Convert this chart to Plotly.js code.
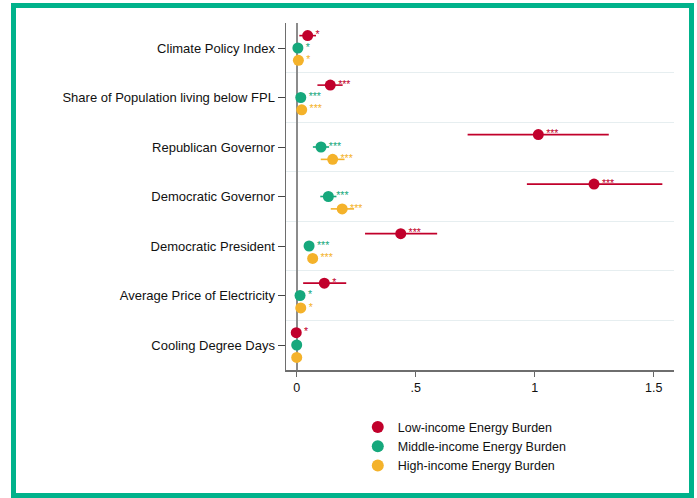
<!DOCTYPE html>
<html>
<head>
<meta charset="utf-8">
<script src="https://cdn.plot.ly/plotly-3.0.1.min.js"></script>
<style>
  html, body { margin: 0; padding: 0; background: #fff; }
  #wrap { position: relative; width: 697px; height: 498px; overflow: hidden; }
  #chart { position: absolute; left: 0; top: 0; width: 697px; height: 498px; }
  #frame { position: absolute; left: 11px; top: 3px; width: 683px; height: 495px;
           border: 5px solid #00B28B; box-sizing: border-box; pointer-events: none; }
</style>
</head>
<body>
<div id="wrap">
  <div id="chart"></div>
  <div id="frame"></div>
</div>
<script>
// ---- data ----
const categories = [
  "Climate Policy Index",
  "Share of Population living below FPL",
  "Republican Governor",
  "Democratic Governor",
  "Democratic President",
  "Average Price of Electricity",
  "Cooling Degree Days"
];

const lowEst   = [0.046, 0.141, 1.015, 1.249, 0.437, 0.116, -0.002];
const lowLo    = [0.011, 0.087, 0.718, 0.967, 0.287, 0.027, -0.008];
const lowHi    = [0.081, 0.193, 1.311, 1.536, 0.590, 0.208, 0.004];
const lowStars = ["*", "***", "***", "***", "***", "*", "*"];

const midEst   = [0.005, 0.017, 0.102, 0.133, 0.052, 0.014, 0.000];
const midLo    = [0.000, 0.008, 0.068, 0.099, 0.040, 0.006, -0.002];
const midHi    = [0.010, 0.026, 0.136, 0.167, 0.064, 0.022, 0.002];
const midStars = ["*", "***", "***", "***", "***", "*", ""];

const highEst   = [0.007, 0.021, 0.151, 0.191, 0.067, 0.017, 0.000];
const highLo    = [0.001, 0.012, 0.101, 0.143, 0.058, 0.009, -0.002];
const highHi    = [0.013, 0.030, 0.201, 0.241, 0.077, 0.025, 0.002];
const highStars = ["*", "***", "***", "***", "***", "*", ""];

const seriesNames = ["Low-income Energy Burden", "Middle-income Energy Burden", "High-income Energy Burden"];
const seriesColors = ["#C1002B", "#16A87C", "#F4B22A"];

// ---- build traces ----
const idx = categories.map((c, i) => i);
function mk(est, lo, hi, stars, offset, name, color) {
  return {
    type: "scatter",
    mode: "markers+text",
    name: name,
    x: est,
    y: idx.map(i => i + offset),
    text: stars,
    textposition: "middle right",
    textfont: { family: "Liberation Sans, Arial, sans-serif", size: 10.5, color: color },
    marker: { color: color, size: 11, line: { width: 0 } },
    error_x: {
      type: "data", symmetric: false,
      array: hi.map((h, i) => h - est[i]),
      arrayminus: lo.map((l, i) => est[i] - l),
      color: color, thickness: 1.6, width: 0
    },
    cliponaxis: false,
    hoverinfo: "x+name"
  };
}

const traces = [
  mk(lowEst, lowLo, lowHi, lowStars, -0.25, seriesNames[0], seriesColors[0]),
  mk(midEst, midLo, midHi, midStars, 0, seriesNames[1], seriesColors[1]),
  mk(highEst, highLo, highHi, highStars, 0.25, seriesNames[2], seriesColors[2])
];

const font = "Liberation Sans, Arial, Helvetica, sans-serif";

const layout = {
  width: 697, height: 498,
  margin: { l: 286, r: 23, t: 23, b: 128, pad: 0 },
  paper_bgcolor: "#ffffff",
  plot_bgcolor: "#ffffff",
  font: { family: font, size: 13, color: "#111" },
  showlegend: true,
  legend: {
    x: 0.185, xanchor: "left",
    y: -0.122, yanchor: "top",
    font: { family: font, size: 12.5, color: "#111" },
    tracegroupgap: 0,
    itemsizing: "constant",
    bgcolor: "rgba(0,0,0,0)"
  },
  xaxis: {
    range: [-0.045, 1.585],
    tickvals: [0, 0.5, 1, 1.5],
    ticktext: ["0", ".5", "1", "1.5"],
    ticks: "outside", ticklen: 5, tickwidth: 1, tickcolor: "#666",
    tickfont: { family: font, size: 12.5, color: "#111" },
    showgrid: false,
    zeroline: true, zerolinecolor: "#8c8c8c", zerolinewidth: 1.6,
    showline: true, linecolor: "#6e6e6e", linewidth: 1.5,
    fixedrange: true
  },
  yaxis: {
    range: [6.505, -0.505],
    tickvals: idx,
    ticktext: categories,
    ticks: "outside", ticklen: 7, tickwidth: 1, tickcolor: "#444",
    tickfont: { family: font, size: 13, color: "#111" },
    showgrid: false,
    zeroline: false,
    showline: true, linecolor: "#6e6e6e", linewidth: 1.5,
    minor: { tickmode: "linear", tick0: 0.5, dtick: 1, showgrid: true,
             gridcolor: "#e6eef0", gridwidth: 1.2, ticks: "" },
    fixedrange: true
  }
};

Plotly.newPlot("chart", traces, layout, { displayModeBar: false, staticPlot: true });
</script>
</body>
</html>
